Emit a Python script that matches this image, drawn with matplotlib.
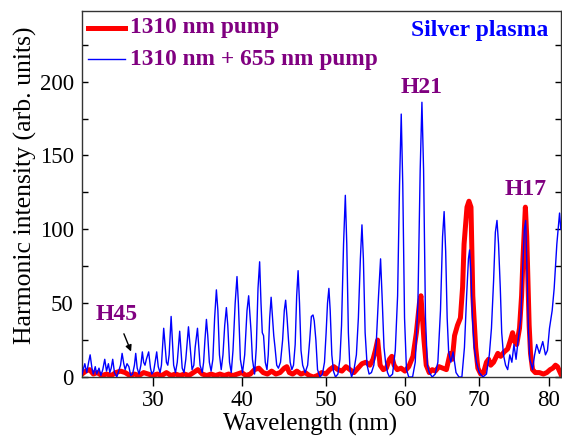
import matplotlib
matplotlib.use("Agg")
import matplotlib.pyplot as plt
import numpy as np
from matplotlib.ticker import MultipleLocator

# two-colour pump spectrum (blue), wavelength in nm / intensity in arb. units
blue_wl = [22.4, 22.7, 22.9, 23.1, 23.26, 23.45, 23.6, 23.8, 23.95, 24.2, 24.4, 24.6, 24.81, 25.0, 25.2,
           25.35, 25.5, 25.66, 25.85, 26.1, 26.3, 26.5, 26.67, 26.85, 27.0, 27.2, 27.4, 27.6, 27.8, 28.0,
           28.14, 28.3, 28.5, 28.7, 28.86, 29.0, 29.15, 29.3, 29.55, 29.75, 29.9, 30.1, 30.25, 30.43, 30.6,
           30.8, 30.95, 31.2, 31.5, 31.65, 31.8, 32.02, 32.3, 32.5, 32.7, 32.97, 33.25, 33.45, 33.65, 33.95,
           34.2, 34.35, 34.55, 34.7, 34.96, 35.25, 35.5, 35.65, 35.8, 35.97, 36.12, 36.3, 36.5, 36.7, 36.9,
           37.1, 37.27, 37.45, 37.65, 37.85, 38.05, 38.24, 38.4, 38.6, 38.8, 39.0, 39.25, 39.46, 39.62, 39.85,
           40.1, 40.35, 40.62, 40.81, 40.98, 41.1, 41.25, 41.5, 41.7, 41.9, 42.09, 42.25, 42.4, 42.55, 42.75,
           42.95, 43.1, 43.27, 43.44, 43.6, 43.75, 43.9, 44.1, 44.3, 44.55, 44.8, 45.0, 45.16, 45.33, 45.5,
           45.7, 45.9, 46.1, 46.3, 46.48, 46.65, 46.82, 47.0, 47.2, 47.5, 47.8, 48.05, 48.25, 48.45, 48.6,
           48.8, 49.0, 49.3, 49.6, 49.85, 50.05, 50.22, 50.39, 50.55, 50.75, 50.95, 51.2, 51.5, 51.75, 51.95,
           52.2, 52.42, 52.6, 52.8, 53.0, 53.2, 53.5, 53.8, 54.05, 54.3, 54.5, 54.68, 54.9, 55.15, 55.4,
           55.7, 56.0, 56.3, 56.6, 56.86, 57.05, 57.3, 57.5, 57.75, 58.0, 58.4, 58.75, 59.05, 59.3, 59.52,
           59.72, 59.95, 60.2, 60.5, 61.0, 61.35, 61.7, 62.0, 62.23, 62.45, 62.7, 62.95, 63.2, 63.6, 64.0,
           64.35, 64.7, 64.98, 65.19, 65.4, 65.6, 65.8, 66.1, 66.4, 66.8, 67.2, 67.6, 67.95, 68.25, 68.5,
           68.66, 68.85, 69.05, 69.3, 69.6, 70.0, 70.5, 71.0, 71.4, 71.7, 72.0, 72.25, 72.48, 72.7, 72.95,
           73.15, 73.4, 73.7, 74.0, 74.3, 74.6, 74.9, 75.2, 75.5, 75.9, 76.2, 76.4, 76.59, 76.8, 77.0,
           77.2, 77.6, 77.9, 78.2, 78.6, 79.1, 79.5, 79.8, 80.1, 80.5, 80.8, 81.2, 81.61, 81.8]
blue_int = [2, 9, 3, 10, 15, 6, 2, 7, 2, 6, 1, 5, 12, 4, 9,
            3, 6, 12, 3, 0, 4, 8, 16, 9, 5, 9, 7, 1, 2, 8,
            16, 6, 2, 8, 17, 10, 8, 12, 17, 6, 2, 4, 10, 17, 7,
            3, 8, 33, 10, 8, 15, 41, 8, 3, 10, 31, 6, 3, 12, 34,
            16, 5, 8, 20, 33, 8, 3, 10, 25, 39, 28, 10, 4, 12, 40,
            59, 45, 15, 5, 15, 35, 47, 35, 10, 3, 18, 50, 68, 50, 12,
            3, 15, 45, 55, 40, 30, 12, 2, 20, 60, 78, 50, 30, 28, 10,
            5, 15, 40, 54, 40, 28, 20, 8, 6, 10, 25, 45, 52, 40, 25,
            10, 5, 8, 22, 55, 72, 50, 18, 8, 3, 8, 25, 41, 42, 38,
            25, 5, 0, 2, 10, 30, 50, 60, 45, 15, 4, 0, 2, 12, 35,
            90, 123, 90, 30, 5, 0, 5, 15, 40, 80, 103, 80, 30, 8, 2,
            3, 8, 22, 55, 80, 55, 20, 10, 3, 0, 2, 18, 55, 130, 178,
            130, 40, 5, 0, 0, 10, 50, 140, 186, 140, 40, 8, 3, 0, 2,
            10, 45, 95, 112, 85, 40, 17, 10, 17, 3, 0, 0, 20, 55, 80,
            86, 70, 40, 20, 10, 3, 0, 2, 15, 33, 65, 98, 106, 90, 60,
            30, 15, 8, 5, 15, 10, 22, 12, 25, 40, 78, 100, 106, 70, 30,
            12, 5, 15, 22, 16, 24, 15, 18, 33, 45, 60, 90, 111, 100]

# single-colour pump spectrum (red)
red_wl = [22.4, 22.8, 23.2, 23.6, 24.0, 24.5, 25.0, 25.5, 26.0, 26.5, 27.0, 27.5, 28.0, 28.5, 29.0,
          29.5, 30.0, 30.5, 31.0, 31.5, 32.0, 32.5, 33.0, 33.5, 34.0, 34.5, 35.0, 35.5, 36.0, 36.5,
          37.0, 37.5, 38.0, 38.5, 39.0, 39.5, 40.0, 40.5, 41.0, 41.5, 42.0, 42.5, 43.0, 43.5, 44.0,
          44.5, 45.0, 45.3, 45.6, 46.0, 46.5, 47.0, 47.5, 48.0, 48.5, 49.0, 49.5, 50.0, 50.5, 51.0,
          51.5, 52.0, 52.5, 53.0, 53.5, 54.0, 54.5, 55.0, 55.5, 55.9, 56.2, 56.49, 56.8, 57.2, 57.6,
          58.0, 58.3, 58.6, 59.0, 59.5, 60.0, 60.5, 61.05, 61.5, 61.9, 62.1, 62.5, 62.8, 63.2, 63.6,
          64.0, 64.5, 65.0, 65.5, 66.0, 66.3, 66.6, 67.0, 67.4, 67.7, 67.9, 68.3, 68.57, 68.85, 69.1,
          69.5, 69.8, 70.2, 70.6, 71.0, 71.3, 71.6, 72.0, 72.6, 73.0, 73.5, 74.0, 74.4, 74.7, 75.0,
          75.3, 75.7, 76.0, 76.2, 76.55, 76.75, 76.9, 77.1, 77.3, 77.6, 78.0, 78.6, 79.2, 79.7, 80.2,
          80.6, 81.0, 81.3, 81.8]
red_int = [2, 4, 5, 2, 3, 1, 2, 1, 3, 4, 3, 1, 2, 1, 3,
           2, 1, 2, 1, 3, 1, 2, 1, 2, 1, 3, 5, 2, 1, 2,
           1, 2, 1, 2, 1, 2, 3, 1, 2, 5, 6, 3, 2, 4, 2,
           3, 6, 7, 3, 2, 4, 2, 3, 1, 0, 1, 3, 2, 5, 7,
           5, 4, 7, 5, 3, 6, 9, 10, 8, 12, 18, 25, 8, 5, 6,
           12, 14, 8, 5, 6, 4, 7, 14, 30, 50, 55, 25, 8, 3, 5,
           4, 7, 6, 5, 16, 12, 28, 35, 40, 61, 90, 115, 119, 115, 55,
           20, 6, 2, 3, 10, 12, 8, 10, 16, 14, 17, 19, 25, 30, 24,
           22, 33, 55, 80, 115, 95, 70, 35, 16, 5, 3, 3, 2, 3, 5,
           6, 8, 7, 2]

x_ticks = [30, 40, 50, 60, 70, 80]
purple = "#800080"

# spectrometer axis is slightly non-linear in wavelength (quadratic calibration)
A, B = 79.23, -2.42


def fwd(x):
    u = (np.asarray(x, dtype=float) - 55.0) / 10.0
    return A * u + B * u ** 2


def inv(y):
    y = np.asarray(y, dtype=float)
    disc = np.clip(A ** 2 + 4 * B * y, 0, None)
    u = (A - np.sqrt(disc)) / (-2 * B)
    return 55.0 + 10.0 * u


plt.rcParams["font.family"] = ["Liberation Serif", "DejaVu Serif"]

fig = plt.figure(figsize=(5.62, 4.36), dpi=100)
ax = fig.add_axes([0.1459, 0.1353, 0.852, 0.8402])

ax.set_xscale("function", functions=(fwd, inv))
ax.plot(red_wl, red_int, color="#ff0000", lw=3.6, zorder=2, solid_joinstyle="round")
ax.plot(blue_wl, blue_int, color="#0000ff", lw=1.0, zorder=3)

ax.set_xlim(22.4, 81.8)
ax.set_ylim(0, 248)
ax.set_xticks(x_ticks)
ax.set_xticklabels([str(t) for t in x_ticks])
ax.yaxis.set_major_locator(MultipleLocator(50))
ax.yaxis.set_minor_locator(MultipleLocator(25))
ax.xaxis.set_minor_locator(matplotlib.ticker.NullLocator())

ax.tick_params(axis="x", direction="out", length=6.5, width=1, labelsize=16.5, pad=2.5)
ax.tick_params(axis="y", which="both", direction="in", length=4, width=1, labelsize=16.5,
               pad=6, right=True)
for s in ax.spines.values():
    s.set_linewidth(1.0)
    s.set_color("#333333")

ax.set_xlabel("Wavelength (nm)", fontsize=18)
ax.set_ylabel("Harmonic intensity (arb. units)", fontsize=18.5)
ax.xaxis.set_label_coords(0.477, -0.097)
ax.yaxis.set_label_coords(-0.094, 0.524)

# hand-made legend
ax.plot([0.0125, 0.09], [0.953, 0.953], transform=ax.transAxes, color="#ff0000", lw=3.6)
ax.plot([0.0125, 0.09], [0.868, 0.868], transform=ax.transAxes, color="#0000ff", lw=1.0)
ax.text(0.1, 0.953, "1310 nm pump", transform=ax.transAxes, color=purple, fontsize=16.8,
        fontweight="bold", va="center", ha="left")
ax.text(0.1, 0.868, "1310 nm + 655 nm pump", transform=ax.transAxes, color=purple, fontsize=16.8,
        fontweight="bold", va="center", ha="left")
ax.text(0.975, 0.947, "Silver plasma", transform=ax.transAxes, color="#0000ff", fontsize=17,
        fontweight="bold", va="center", ha="right")

ax.text(62.23, 196, "H21", color=purple, fontsize=17, fontweight="bold", ha="center", va="center")
ax.text(76.6, 127, "H17", color=purple, fontsize=17, fontweight="bold", ha="center", va="center")
ax.text(26.1, 42, "H45", color=purple, fontsize=17, fontweight="bold", ha="center", va="center")
ax.annotate("", xy=(27.75, 15.5), xytext=(26.75, 31),
            arrowprops=dict(arrowstyle="-|>", color="black", lw=1.0, mutation_scale=9))

fig.savefig("out.png", dpi=100)
